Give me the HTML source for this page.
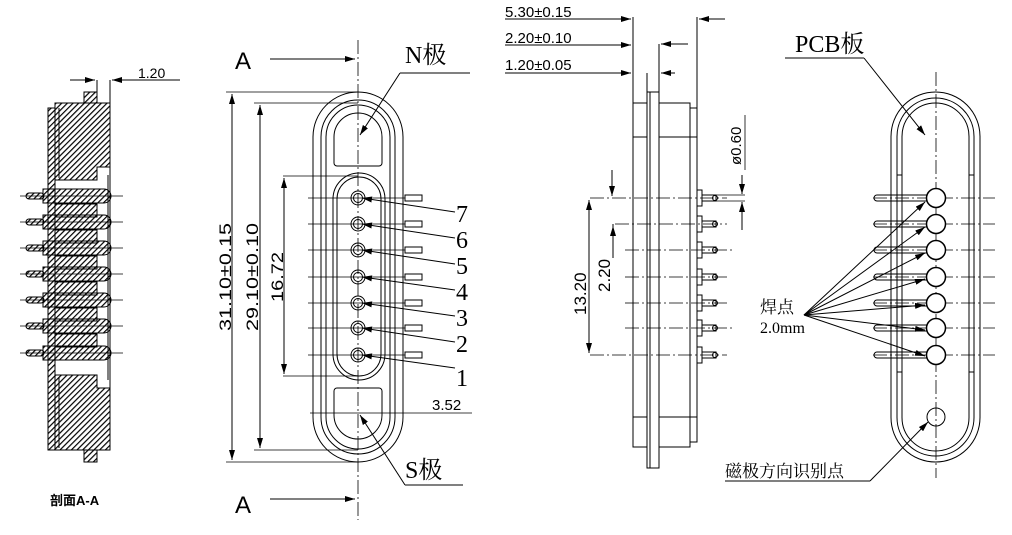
<!DOCTYPE html>
<html><head><meta charset="utf-8"><style>
html,body{margin:0;padding:0;background:#fff;}
svg{display:block;}
.t{font-family:"Liberation Sans","Noto Sans CJK SC",sans-serif;}
.s{font-family:"Liberation Serif","Noto Serif CJK SC",serif;}
</style></head><body>
<svg width="1012" height="535" viewBox="0 0 1012 535" xmlns="http://www.w3.org/2000/svg" fill="none" stroke="#000" stroke-width="1">
<defs>
<pattern id="h" width="4" height="4" patternUnits="userSpaceOnUse" patternTransform="rotate(45)"><rect x="0" y="0" width="1.2" height="4" fill="#000" stroke="none"/></pattern>
<marker id="ar" viewBox="0 0 10 6" refX="10" refY="3" markerWidth="10" markerHeight="6" orient="auto-start-reverse" markerUnits="userSpaceOnUse"><path d="M0,0L10,3L0,6z" fill="#000" stroke="none"/></marker>
</defs>

<!-- ===== Section A-A ===== -->
<g stroke-width="1">
<path d="M84,92H97V103H84Z" fill="url(#h)"/>
<path d="M84,450H97V462H84Z" fill="url(#h)"/>
<rect x="48" y="108" width="7" height="342" fill="url(#h)"/>
<path d="M55,103H110V167H97V180H55Z" fill="url(#h)"/>
<line x1="59" y1="108" x2="59" y2="178"/>
<path d="M55,375H97V388H110V450H55Z" fill="url(#h)"/>
<line x1="59" y1="377" x2="59" y2="448"/>
<g fill="url(#h)">
<rect x="55" y="204" width="42" height="13"/><rect x="55" y="230" width="42" height="13"/>
<rect x="55" y="256" width="42" height="13"/><rect x="55" y="282" width="42" height="13"/>
<rect x="55" y="308" width="42" height="13"/><rect x="55" y="334" width="42" height="13"/>
</g>
<g fill="url(#h)">
<path d="M43,189H104a7,7 0 0 1 0,14H43Z"/><path d="M43,215H104a7,7 0 0 1 0,14H43Z"/>
<path d="M43,241H104a7,7 0 0 1 0,14H43Z"/><path d="M43,267H104a7,7 0 0 1 0,14H43Z"/>
<path d="M43,293H104a7,7 0 0 1 0,14H43Z"/><path d="M43,319H104a7,7 0 0 1 0,14H43Z"/>
<path d="M43,346H104a7,7 0 0 1 0,14H43Z"/>
</g>
<g fill="url(#h)">
<rect x="26" y="193" width="18" height="6" rx="3"/><rect x="26" y="219" width="18" height="6" rx="3"/>
<rect x="26" y="245" width="18" height="6" rx="3"/><rect x="26" y="271" width="18" height="6" rx="3"/>
<rect x="26" y="297" width="18" height="6" rx="3"/><rect x="26" y="323" width="18" height="6" rx="3"/>
<rect x="26" y="350" width="18" height="6" rx="3"/>
</g>
<line x1="110" y1="103" x2="110" y2="450"/>
<line x1="108" y1="175" x2="108" y2="380"/>
<line x1="97" y1="80" x2="97" y2="92"/>
<line x1="110" y1="80" x2="110" y2="103"/>
<line x1="70" y1="80" x2="95" y2="80" marker-end="url(#ar)"/>
<line x1="180" y1="80" x2="112" y2="80" marker-end="url(#ar)"/>
<text x="138" y="78" class="t" font-size="14" fill="#000" stroke="none">1.20</text>
<g stroke-width="0.8">
<line x1="20" y1="196" x2="123" y2="196"/><line x1="20" y1="222" x2="123" y2="222"/>
<line x1="20" y1="248" x2="123" y2="248"/><line x1="20" y1="274" x2="123" y2="274"/>
<line x1="20" y1="300" x2="123" y2="300"/><line x1="20" y1="326" x2="123" y2="326"/>
<line x1="20" y1="353" x2="123" y2="353"/>
</g>
<text x="50" y="505" class="t" font-size="13" font-weight="bold" fill="#000" stroke="none">剖面A-A</text>
</g>

<!-- ===== Front view ===== -->
<g>
<line x1="358" y1="40" x2="358" y2="520" stroke-dasharray="14,3,2,3" stroke-width="0.8"/>
<line x1="270" y1="59" x2="355" y2="59" marker-end="url(#ar)"/>
<line x1="270" y1="499" x2="355" y2="499" marker-end="url(#ar)"/>
<text x="235" y="69" class="t" font-size="24" fill="#000" stroke="none">A</text>
<text x="235" y="513" class="t" font-size="24" fill="#000" stroke="none">A</text>
<rect x="313" y="92" width="90" height="370" rx="45"/>
<rect x="321" y="100" width="74" height="354" rx="37"/>
<rect x="326" y="105" width="64" height="344" rx="32"/>
<path d="M334,163V137a24,24 0 0 1 48,0V163a3,3 0 0 1-3,3H337a3,3 0 0 1-3-3Z"/>
<path d="M334,391V415a24,24 0 0 0 48,0V391a3,3 0 0 0-3-3H337a3,3 0 0 0-3,3Z"/>
<rect x="333" y="173" width="52" height="207" rx="26"/>
<rect x="337" y="177" width="44" height="199" rx="22"/>
<g>
<circle cx="358" cy="198" r="7"/><circle cx="358" cy="198" r="4.5"/>
<circle cx="358" cy="224" r="7"/><circle cx="358" cy="224" r="4.5"/>
<circle cx="358" cy="250" r="7"/><circle cx="358" cy="250" r="4.5"/>
<circle cx="358" cy="277" r="7"/><circle cx="358" cy="277" r="4.5"/>
<circle cx="358" cy="303" r="7"/><circle cx="358" cy="303" r="4.5"/>
<circle cx="358" cy="328" r="7"/><circle cx="358" cy="328" r="4.5"/>
<circle cx="358" cy="355" r="7"/><circle cx="358" cy="355" r="4.5"/>
</g>
<g stroke-width="0.8">
<line x1="308" y1="198" x2="405" y2="198"/><line x1="308" y1="224" x2="405" y2="224"/>
<line x1="308" y1="250" x2="405" y2="250"/><line x1="308" y1="277" x2="405" y2="277"/>
<line x1="308" y1="303" x2="405" y2="303"/><line x1="308" y1="328" x2="405" y2="328"/>
<line x1="308" y1="355" x2="405" y2="355"/>
</g>
<g>
<rect x="405" y="195" width="17" height="6"/><rect x="405" y="221" width="17" height="6"/>
<rect x="405" y="247" width="17" height="6"/><rect x="405" y="274" width="17" height="6"/>
<rect x="405" y="300" width="17" height="6"/><rect x="405" y="325" width="17" height="6"/>
<rect x="405" y="352" width="17" height="6"/>
</g>
<g>
<line x1="455" y1="212" x2="362" y2="198" marker-end="url(#ar)"/>
<line x1="455" y1="238" x2="362" y2="224" marker-end="url(#ar)"/>
<line x1="455" y1="264" x2="362" y2="250" marker-end="url(#ar)"/>
<line x1="455" y1="290" x2="362" y2="277" marker-end="url(#ar)"/>
<line x1="455" y1="316" x2="362" y2="303" marker-end="url(#ar)"/>
<line x1="455" y1="342" x2="362" y2="328" marker-end="url(#ar)"/>
<line x1="455" y1="368" x2="362" y2="355" marker-end="url(#ar)"/>
</g>
<g class="s" font-size="24" fill="#000" stroke="none">
<text x="456" y="222">7</text><text x="456" y="248">6</text><text x="456" y="274">5</text>
<text x="456" y="300">4</text><text x="456" y="326">3</text><text x="456" y="352">2</text>
<text x="456" y="386">1</text>
</g>
<line x1="226" y1="92" x2="358" y2="92" stroke-width="0.8"/>
<line x1="226" y1="462" x2="358" y2="462" stroke-width="0.8"/>
<line x1="232" y1="94" x2="232" y2="460" marker-start="url(#ar)" marker-end="url(#ar)"/>
<line x1="254" y1="103" x2="358" y2="103" stroke-width="0.8"/>
<line x1="254" y1="450" x2="358" y2="450" stroke-width="0.8"/>
<line x1="260" y1="105" x2="260" y2="448" marker-start="url(#ar)" marker-end="url(#ar)"/>
<line x1="283" y1="176" x2="358" y2="176" stroke-width="0.8"/>
<line x1="283" y1="376" x2="358" y2="376" stroke-width="0.8"/>
<line x1="284" y1="178" x2="284" y2="374" marker-start="url(#ar)" marker-end="url(#ar)"/>
<g class="t" font-size="17" fill="#000" stroke="none">
<text transform="translate(231,331) rotate(-90)" textLength="108" lengthAdjust="spacingAndGlyphs">31.10±0.15</text>
<text transform="translate(258,331) rotate(-90)" textLength="108" lengthAdjust="spacingAndGlyphs">29.10±0.10</text>
<text transform="translate(283,302) rotate(-90)" textLength="50" lengthAdjust="spacingAndGlyphs">16.72</text>
</g>
<text x="432" y="410" class="t" font-size="15" fill="#000" stroke="none">3.52</text>
<line x1="310" y1="413" x2="472" y2="413" stroke-width="0.8"/>
<line x1="470" y1="73" x2="400" y2="73"/>
<line x1="400" y1="73" x2="360" y2="135" marker-end="url(#ar)"/>
<text x="405" y="63" class="s" font-size="24" fill="#000" stroke="none">N极</text>
<line x1="463" y1="485" x2="405" y2="485"/>
<line x1="405" y1="485" x2="360" y2="415" marker-end="url(#ar)"/>
<text x="405" y="478" class="s" font-size="24" fill="#000" stroke="none">S极</text>
</g>

<!-- ===== Side view ===== -->
<g>
<g class="t" font-size="15" fill="#000" stroke="none">
<text x="505" y="17">5.30±0.15</text>
<text x="505" y="43">2.20±0.10</text>
<text x="505" y="70">1.20±0.05</text>
</g>
<line x1="505" y1="19" x2="631" y2="19" marker-end="url(#ar)"/>
<line x1="505" y1="45" x2="631" y2="45" marker-end="url(#ar)"/>
<line x1="505" y1="73" x2="631" y2="73" marker-end="url(#ar)"/>
<line x1="633" y1="17" x2="633" y2="103"/>
<line x1="697" y1="17" x2="697" y2="108"/>
<line x1="725" y1="19" x2="699" y2="19" marker-end="url(#ar)"/>
<line x1="659" y1="44" x2="659" y2="92"/>
<line x1="688" y1="44" x2="661" y2="44" marker-end="url(#ar)"/>
<line x1="647" y1="73" x2="647" y2="92"/>
<line x1="675" y1="73" x2="661" y2="73" marker-end="url(#ar)"/>
<rect x="633" y="103" width="57" height="344"/>
<rect x="690" y="108" width="7" height="334"/>
<line x1="633" y1="137" x2="697" y2="137"/>
<line x1="633" y1="417" x2="697" y2="417"/>
<rect x="647" y="92" width="12" height="376" fill="#fff"/>
<line x1="650" y1="92" x2="650" y2="468"/>
<g stroke-width="0.8" stroke-dasharray="14,3,2,3">
<line x1="590" y1="198" x2="727" y2="198"/><line x1="615" y1="224" x2="727" y2="224"/>
<line x1="625" y1="250" x2="732" y2="250"/><line x1="625" y1="277" x2="727" y2="277"/>
<line x1="625" y1="303" x2="727" y2="303"/><line x1="625" y1="328" x2="732" y2="328"/>
<line x1="590" y1="355" x2="727" y2="355"/>
</g>
<g>
<rect x="697" y="190" width="5" height="16"/><rect x="697" y="216" width="5" height="16"/>
<rect x="697" y="242" width="5" height="16"/><rect x="697" y="269" width="5" height="16"/>
<rect x="697" y="295" width="5" height="16"/><rect x="697" y="320" width="5" height="16"/>
<rect x="697" y="347" width="5" height="16"/>
<rect x="702" y="195" width="14" height="6"/><rect x="702" y="221" width="14" height="6"/>
<rect x="702" y="247" width="14" height="6"/><rect x="702" y="274" width="14" height="6"/>
<rect x="702" y="300" width="14" height="6"/><rect x="702" y="325" width="14" height="6"/>
<rect x="702" y="352" width="14" height="6"/>
<circle cx="715" cy="198" r="2.5"/><circle cx="715" cy="224" r="2.5"/><circle cx="715" cy="250" r="2.5"/>
<circle cx="715" cy="277" r="2.5"/><circle cx="715" cy="303" r="2.5"/><circle cx="715" cy="328" r="2.5"/>
<circle cx="715" cy="355" r="2.5"/>
</g>
<line x1="716" y1="195" x2="745" y2="195" stroke-width="0.8"/>
<line x1="716" y1="201" x2="745" y2="201" stroke-width="0.8"/>
<line x1="742" y1="175" x2="742" y2="194" marker-end="url(#ar)"/>
<line x1="742" y1="230" x2="742" y2="202" marker-end="url(#ar)"/>
<line x1="745" y1="115" x2="745" y2="170" stroke-width="0.8"/>
<text transform="translate(741,165) rotate(-90)" class="t" font-size="15" fill="#000" stroke="none">ø0.60</text>
<line x1="612" y1="170" x2="612" y2="196" marker-end="url(#ar)"/>
<line x1="589" y1="200" x2="589" y2="353" marker-start="url(#ar)" marker-end="url(#ar)"/>
<line x1="613" y1="258" x2="613" y2="226" marker-end="url(#ar)"/>
<line x1="613" y1="224" x2="613" y2="258"/>
<g class="t" font-size="17" fill="#000" stroke="none">
<text transform="translate(586,315) rotate(-90)">13.20</text>
<text transform="translate(610,292) rotate(-90)">2.20</text>
</g>
</g>

<!-- ===== Back view ===== -->
<g>
<line x1="936" y1="72" x2="936" y2="478" stroke-dasharray="14,3,2,3" stroke-width="0.8"/>
<rect x="891" y="92" width="89" height="370" rx="44.5"/>
<rect x="897" y="98" width="77" height="358" rx="38.5"/>
<rect x="902" y="103" width="67" height="348" rx="33.5"/>
<line x1="897" y1="175" x2="902" y2="175"/><line x1="969" y1="175" x2="974" y2="175"/>
<line x1="897" y1="372" x2="902" y2="372"/><line x1="969" y1="372" x2="974" y2="372"/>
<g stroke-width="0.8" stroke-dasharray="14,3,2,3">
<line x1="873" y1="198" x2="995" y2="198"/><line x1="873" y1="224" x2="995" y2="224"/>
<line x1="873" y1="250" x2="995" y2="250"/><line x1="873" y1="277" x2="995" y2="277"/>
<line x1="873" y1="303" x2="995" y2="303"/><line x1="873" y1="328" x2="995" y2="328"/>
<line x1="873" y1="355" x2="995" y2="355"/>
</g>
<g>
<rect x="874" y="195" width="57" height="6" rx="3"/><rect x="874" y="221" width="57" height="6" rx="3"/>
<rect x="874" y="247" width="57" height="6" rx="3"/><rect x="874" y="274" width="57" height="6" rx="3"/>
<rect x="874" y="300" width="57" height="6" rx="3"/><rect x="874" y="325" width="57" height="6" rx="3"/>
<rect x="874" y="352" width="57" height="6" rx="3"/>
</g>
<g stroke-width="1.5">
<circle cx="936" cy="198" r="9.5" fill="#fff"/><circle cx="936" cy="224" r="9.5" fill="#fff"/>
<circle cx="936" cy="250" r="9.5" fill="#fff"/><circle cx="936" cy="277" r="9.5" fill="#fff"/>
<circle cx="936" cy="303" r="9.5" fill="#fff"/><circle cx="936" cy="328" r="9.5" fill="#fff"/>
<circle cx="936" cy="355" r="9.5" fill="#fff"/>
</g>
<circle cx="936" cy="417" r="9"/>
<g>
<line x1="804" y1="315" x2="925" y2="202" marker-end="url(#ar)"/>
<line x1="804" y1="315" x2="925" y2="227" marker-end="url(#ar)"/>
<line x1="804" y1="315" x2="925" y2="253" marker-end="url(#ar)"/>
<line x1="804" y1="315" x2="925" y2="279" marker-end="url(#ar)"/>
<line x1="804" y1="315" x2="925" y2="305" marker-end="url(#ar)"/>
<line x1="804" y1="315" x2="925" y2="330" marker-end="url(#ar)"/>
<line x1="804" y1="315" x2="925" y2="356" marker-end="url(#ar)"/>
</g>
<text x="760" y="313" class="s" font-size="17" fill="#000" stroke="none">焊点</text>
<text x="760" y="333" class="s" font-size="16" fill="#000" stroke="none">2.0mm</text>
<line x1="785" y1="58" x2="864" y2="58"/>
<line x1="864" y1="58" x2="925" y2="135" marker-end="url(#ar)"/>
<text x="795" y="52" class="s" font-size="24" fill="#000" stroke="none">PCB板</text>
<line x1="725" y1="481" x2="870" y2="481"/>
<line x1="870" y1="481" x2="928" y2="422" marker-end="url(#ar)"/>
<text x="725" y="477" class="s" font-size="17" fill="#000" stroke="none">磁极方向识别点</text>
</g>
</svg>
</body></html>
